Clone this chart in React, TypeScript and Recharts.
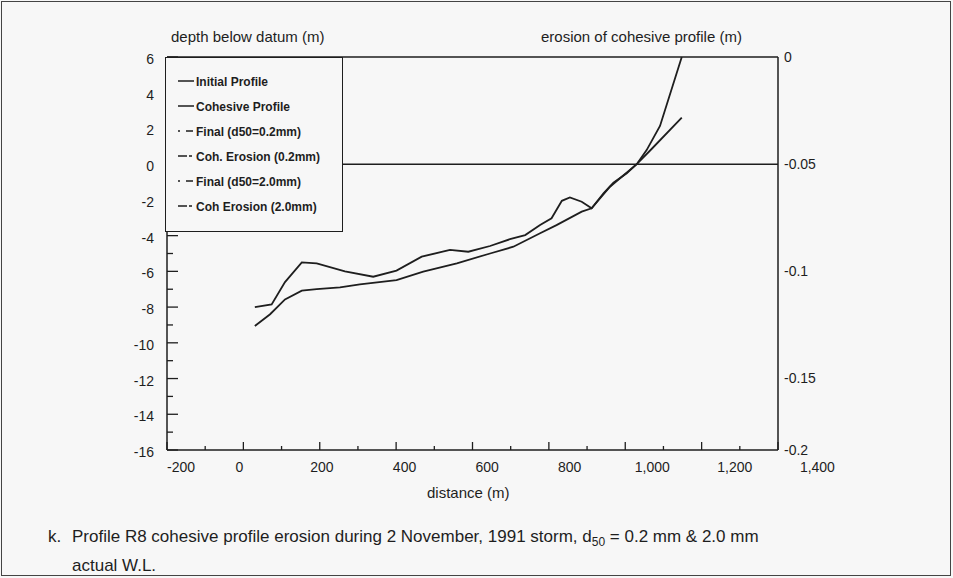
import { LineChart, Line, XAxis, YAxis, ReferenceLine, Legend } from 'recharts'

// Initial profile (upper, wiggly curve)
const initialDist = [30, 74, 109, 153, 192, 266, 340, 401, 467, 541, 589, 646, 698, 738, 777, 807, 834, 855, 886, 912, 943, 969, 1004, 1032, 1069, 1148]
const initialDepth = [-8.0, -7.85, -6.6, -5.5, -5.55, -6.0, -6.3, -5.96, -5.18, -4.8, -4.9, -4.58, -4.2, -3.97, -3.4, -3.03, -2.05, -1.86, -2.1, -2.47, -1.63, -1.04, -0.51, 0.05, 0.85, 2.6]

// Cohesive profile (lower, smooth curve)
const cohesiveDist = [30, 70, 109, 153, 192, 253, 305, 401, 471, 559, 646, 707, 777, 820, 886, 912, 960, 1030, 1056, 1091, 1148]
const cohesiveDepth = [-9.06, -8.4, -7.57, -7.08, -7.0, -6.9, -6.73, -6.49, -6.02, -5.55, -5.0, -4.62, -3.87, -3.41, -2.66, -2.47, -1.26, 0.0, 0.79, 2.14, 6.0]

const distanceTicks = [-200, -100, 0, 100, 200, 300, 400, 500, 600, 700, 800, 900, 1000, 1100, 1200, 1300, 1400]
const depthTicks = [-16, -15, -14, -13, -12, -11, -10, -9, -8, -7, -6, -5, -4, -3, -2, -1, 0, 1, 2, 3, 4, 5, 6]
const erosionTicks = [0, -0.05, -0.1, -0.15, -0.1836]
const erosionTickLabels = ['0', '-0.05', '-0.1', '-0.15', '-0.2']

const legendNames = ['Initial Profile', 'Cohesive Profile', 'Final (d50=0.2mm)', 'Coh. Erosion (0.2mm)', 'Final (d50=2.0mm)', 'Coh Erosion (2.0mm)']
const legendDashes = ['', '', '2 6 7', '9 2 3', '2 6 7', '9 2 3']

const ink = '#1e1e1e'
const font = '"Liberation Sans", Arial, sans-serif'

const toPoints = (xs: number[], ys: number[]) => xs.map((x, i) => ({ distance: x, depth: ys[i] }))

function DistanceTick({ x, y, payload }: any) {
  const v = payload.value
  const major = v % 200 === 0
  // labels in the original sit slightly to the right of their ticks
  const shift = v === -200 ? 14 : -4 + v * 0.031
  return (
    <g>
      <line x1={x} y1={y} x2={x} y2={y - (major ? 8 : 4)} stroke={ink} strokeWidth={1.3} />
      {major && (
        <text x={x + shift} y={y + 17} textAnchor="middle" dominantBaseline="central" fontSize={14} fontFamily={font} fill={ink}>
          {v.toLocaleString('en-US')}
        </text>
      )}
    </g>
  )
}

function DepthTick({ x, y, payload }: any) {
  const v = payload.value
  const major = v % 2 === 0
  return (
    <g>
      <line x1={x} y1={y} x2={x + (major ? 11 : 6)} y2={y} stroke={ink} strokeWidth={1.3} />
      {major && (
        <text x={x - 13} y={y + 2} textAnchor="end" dominantBaseline="central" fontSize={14} fontFamily={font} fill={ink}>
          {v}
        </text>
      )}
    </g>
  )
}

function ErosionTick({ x, y, payload }: any) {
  let i = 0
  erosionTicks.forEach((t, k) => {
    if (Math.abs(t - payload.value) < Math.abs(erosionTicks[i] - payload.value)) i = k
  })
  return (
    <text x={x + 6} y={y} textAnchor="start" dominantBaseline="central" fontSize={14} fontFamily={font} fill={ink}>
      {erosionTickLabels[i]}
    </text>
  )
}

function LegendBox() {
  return (
    <div style={{ width: 178, height: 175, boxSizing: 'border-box', border: `1.5px solid ${ink}`, background: '#f7f7f7', paddingTop: 11 }}>
      {legendNames.map((name, i) => (
        <div key={name} style={{ display: 'flex', alignItems: 'center', height: 25, paddingLeft: 12 }}>
          <svg width={18} height={10}>
            <line x1={0} y1={4} x2={16} y2={4} stroke={ink} strokeWidth={1.5} strokeDasharray={legendDashes[i] || undefined} />
          </svg>
          <span style={{ fontFamily: font, fontSize: 12, fontWeight: 'bold', color: ink }}>{name}</span>
        </div>
      ))}
    </div>
  )
}

export default function App() {
  return (
    <div style={{ position: 'absolute', left: 0, top: 0, width: 953, height: 578, background: '#f7f7f7', fontFamily: font, color: ink }}>
      <div style={{ position: 'absolute', left: 1, top: 1, width: 950, height: 575, boxSizing: 'border-box', border: '1.5px solid #444' }} />
      <div style={{ position: 'absolute', left: 171, top: 28, fontSize: 15 }}>depth below datum (m)</div>
      <div style={{ position: 'absolute', left: 541, top: 28, fontSize: 15 }}>erosion of cohesive profile (m)</div>
      <div style={{ position: 'absolute', left: 427, top: 484, fontSize: 15 }}>distance (m)</div>
      <LineChart width={953} height={578} margin={{ top: 57, right: 115, left: 107, bottom: 98 }}>
        <XAxis
          xAxisId="b"
          dataKey="distance"
          type="number"
          domain={[-200, 1400]}
          ticks={distanceTicks}
          interval={0}
          tickSize={0}
          tickMargin={0}
          tickLine={false}
          tick={<DistanceTick />}
          height={30}
          axisLine={{ stroke: ink, strokeWidth: 1.5 }}
          allowDuplicatedCategory={false}
        />
        <YAxis
          yAxisId="d"
          type="number"
          domain={[-16, 6]}
          ticks={depthTicks}
          interval={0}
          tickSize={0}
          tickMargin={0}
          tickLine={false}
          tick={<DepthTick />}
          width={60}
          axisLine={{ stroke: ink, strokeWidth: 1.5 }}
        />
        <YAxis
          yAxisId="e"
          orientation="right"
          type="number"
          domain={[-0.1836, 0]}
          allowDataOverflow
          ticks={erosionTicks}
          interval={0}
          tickSize={0}
          tickMargin={0}
          tickLine={false}
          tick={<ErosionTick />}
          width={60}
          axisLine={{ stroke: ink, strokeWidth: 1.5 }}
        />
        <ReferenceLine xAxisId="b" yAxisId="d" y={0} stroke={ink} strokeWidth={1.5} />
        <ReferenceLine xAxisId="b" yAxisId="d" y={6} stroke={ink} strokeWidth={1.5} />
        <Line xAxisId="b" yAxisId="d" data={toPoints(initialDist, initialDepth)} dataKey="depth" name="Initial Profile" stroke={ink} strokeWidth={1.8} dot={false} isAnimationActive={false} />
        <Line xAxisId="b" yAxisId="d" data={toPoints(cohesiveDist, cohesiveDepth)} dataKey="depth" name="Cohesive Profile" stroke={ink} strokeWidth={1.8} dot={false} isAnimationActive={false} />
        <Legend layout="vertical" align="center" verticalAlign="middle" content={() => <LegendBox />} wrapperStyle={{ left: 165, top: 57, width: 178, height: 175 }} />
      </LineChart>
      <div style={{ position: 'absolute', left: 48, top: 525, fontSize: 17, lineHeight: '24px' }}>
        <span style={{ display: 'inline-block', width: 24 }}>k.</span>
        Profile R8 cohesive profile erosion during 2 November, 1991 storm, d<sub style={{ fontSize: 12 }}>50</sub> = 0.2 mm &amp; 2.0 mm
        <br />
        <span style={{ display: 'inline-block', width: 24 }} />
        actual W.L.
      </div>
    </div>
  )
}
